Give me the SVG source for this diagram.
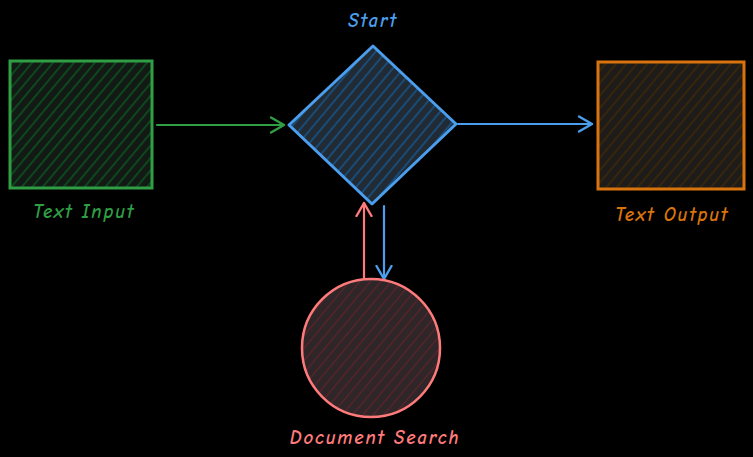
<svg xmlns="http://www.w3.org/2000/svg" width="753" height="457" viewBox="0 0 753 457">
<style>
  .lbl { font-family: "Comic Neue", "Liberation Sans", sans-serif; font-size: 19px; font-weight: bold; text-anchor: middle; font-style: italic; letter-spacing: 1.8px; }
  .edge { fill: none; stroke-width: 2.2; stroke-linecap: round; stroke-linejoin: round; }
</style>
<defs>
  <pattern id="hG" width="8" height="8" patternUnits="userSpaceOnUse" patternTransform="rotate(40)">
    <rect width="8" height="8" fill="#131a15"/>
    <line x1="0" y1="0" x2="0" y2="8" stroke="#0c4d1e" stroke-width="3.5"/>
  </pattern>
  <pattern id="hB" width="8" height="8" patternUnits="userSpaceOnUse" patternTransform="rotate(40)">
    <rect width="8" height="8" fill="#222a33"/>
    <line x1="0" y1="0" x2="0" y2="8" stroke="#184c78" stroke-width="4"/>
  </pattern>
  <pattern id="hO" width="8" height="8" patternUnits="userSpaceOnUse" patternTransform="rotate(40)">
    <rect width="8" height="8" fill="#1e1c1a"/>
    <line x1="0" y1="0" x2="0" y2="8" stroke="#3a2608" stroke-width="3.5"/>
  </pattern>
  <pattern id="hR" width="8" height="8" patternUnits="userSpaceOnUse" patternTransform="rotate(40)">
    <rect width="8" height="8" fill="#2e2628"/>
    <line x1="0" y1="0" x2="0" y2="8" stroke="#5e2329" stroke-width="2.5"/>
  </pattern>
  <marker id="aG" markerWidth="18" markerHeight="18" refX="14" refY="9" orient="auto" markerUnits="userSpaceOnUse">
    <path d="M1,1.5 L14,9 L1,16.5" fill="none" stroke="#2f9e44" stroke-width="2.4" stroke-linecap="round" stroke-linejoin="round"/>
  </marker>
  <marker id="aB" markerWidth="18" markerHeight="18" refX="14" refY="9" orient="auto" markerUnits="userSpaceOnUse">
    <path d="M1,1.5 L14,9 L1,16.5" fill="none" stroke="#4a9eed" stroke-width="2.4" stroke-linecap="round" stroke-linejoin="round"/>
  </marker>
  <marker id="aR" markerWidth="18" markerHeight="18" refX="14" refY="9" orient="auto" markerUnits="userSpaceOnUse">
    <path d="M1,1.5 L14,9 L1,16.5" fill="none" stroke="#ff7b7b" stroke-width="2.4" stroke-linecap="round" stroke-linejoin="round"/>
  </marker>
</defs>
<rect width="753" height="457" fill="#000000"/>

<g id="connectors">
  <path class="edge" d="M157,125 L284,125" stroke="#2f9e44" marker-end="url(#aG)"/>
  <path class="edge" d="M458,124 L592,124" stroke="#4a9eed" marker-end="url(#aB)"/>
  <path class="edge" d="M364,279 L364,203" stroke="#ff7b7b" marker-end="url(#aR)"/>
  <path class="edge" d="M384,206 L384,279" stroke="#4a9eed" marker-end="url(#aB)"/>
</g>

<g id="text-input">
  <rect x="10" y="61" width="142" height="127" fill="url(#hG)" stroke="#2f9e44" stroke-width="3"/>
  <text class="lbl" x="84" y="218" fill="#2f9e44">Text Input</text>
</g>

<g id="start">
  <polygon points="373,46 456,124 372,204 289,125" fill="url(#hB)" stroke="#4a9eed" stroke-width="3" stroke-linejoin="round"/>
  <text class="lbl" x="373" y="27" fill="#4a9eed">Start</text>
</g>

<g id="text-output">
  <rect x="598" y="62" width="146" height="127" fill="url(#hO)" stroke="#d9730d" stroke-width="3"/>
  <text class="lbl" x="672" y="221" fill="#d9730d">Text Output</text>
</g>

<g id="document-search">
  <circle cx="371" cy="348" r="69" fill="url(#hR)" stroke="#ff7b7b" stroke-width="2.5"/>
  <text class="lbl" x="375" y="444" fill="#ff7b7b">Document Search</text>
</g>
</svg>
